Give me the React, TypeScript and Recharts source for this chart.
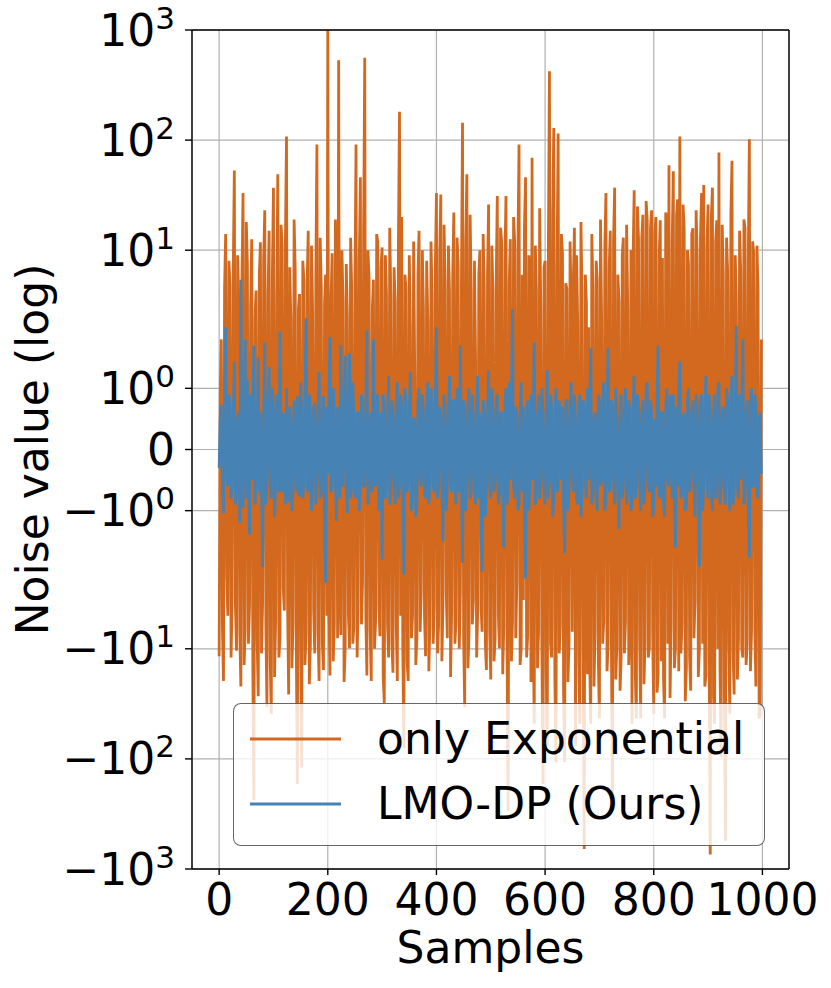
import { LineChart, Line, XAxis, YAxis, CartesianGrid, ReferenceLine, Legend } from 'recharts';

// noise, one value every 2 samples (0..998)
const exponentialNoise = [
  -11.7, 0.9, 1.8, -6, -19.6, 4.5, 14, -2.2, -5, 8, 4.8, -12, -3.2, 6.5, 53, -4, -10.4, 9, 3.5, -7,
  -22, 5.5, 33, -14, -6.5, 18, 7.5, -9, -4, 3.2, 12.6, -15, -237, 2.5, 4.3, -8.5, -27, 6, 11.8, -11,
  -3.8, 8.5, 23, -6, -34, 4, 15, -13, -39, 6, 37, -18, -5.6, 3.6, 49, -12, -8, 17, 10.6, -2.8,
  -4.5, 12, 108, -4, -26, 7, 2.4, -15, -6, 19, 6.7, -9, -169, 3, 4, -11, -120, 8, 5.4, -14,
  -7, 5, 15, -21, -8.8, 11, 3, -4.5, -11, 6, 91, -7, -19.6, 13, 4.5, -9, -15.6, 3.3, 6, -5,
  991, -4, -17.5, 3.5, 9.4, -13, -6, 19, 5.5, -8, 531, -3, -7.5, 10, 3.5, -20, -9.9, 7.5, 2.5, -5,
  -9.9, 13, 4.5, -9, -6.3, 5, 91, -12, -3.5, 8, 46, -6, -2.5, 15, 560, -5, -17.5, 10, 5.5, -7,
  -19.6, 3, 5.4, -10, -5.6, 14, 11.9, -4, -7.7, 7, 10.6, -18, -31, 9, 4, -6, -12, 16, 3.8, -9,
  -16.5, 7, 3.4, -6, -19.6, 12, 181, -5, 20, -9, -80, 6, 4.4, -13, -19.6, 9, 2, -8, -5, 12,
  1.3, -14, -8, 6, 15, -7, -3, 10, 3, -5, -11.7, 8, 2.4, -16, -5.6, 12, 3.8, -9, -4, 7,
  33, -11, -6, 9, 32, -13, -4, 17, 5, -3, -8, 11, 4.3, -18, -4.5, 6, 22, -9, -5.6, 13,
  7, -10, -3, 5, 144, -8, -34, 12, 49, -15, -7, 21, 4.3, -6, -3.6, 8, 1.5, -12, -4.5, 6,
  10, -4, -7, 14, 4.3, -9, -15.6, 6, 26, -7, -19, 11, 4.3, -13, -8, 5, 31, -5, -9.9, 16,
  12, -17, -6, 8, 31, -10, -296, 5, 12.6, -13, -5.6, 20, 11.9, -8, -2.5, 10, 91, -14, -10, 6,
  -3.6, 16, 46, -12, -7.5, 9, 6, -20, 69, -6, -48, 11, 4.4, -15, -7, 24, 3, -9, -169, 7,
  8, -15, -76, 10, 423, -9, -12, 22, 129, -18, -107, 7, 115, -11, -6, 14, 9.4, -25, -107, 5,
  4.5, -20, -9, 12, 3, -7, 5.4, 16, -76, 9, 2.2, -14, -48, 18, 3.8, -10, -658, 6, 3.4, -17,
  2, -12, -48, 14, 4.5, -22, -7, 8, 5.4, -13, -43, 19, 2.5, -9, -5.6, 11, 33, -16, -8.8, 7,
  15, -8, -265, 12, 37, -19, -9.9, 6, 3.4, -24, -12, 9, 13, -11, -5.6, 17, 3.4, -14, -6, 10,
  -48, 9, 35, -17, -43, 25, 12.6, -8, -43, 13, 21, -21, -8.8, 28, 18.7, -12, -9.9, 16, 23, -7,
  -39, 14, 20, -25, -17.5, 9, 18.7, -13, 8.5, -19, -43, 22, 18.7, -9, 59, -28, -6, 12, 52, -15,
  -9.9, 21, 29, -16, 108, -11, -6, 26, 15.8, -30, -15, 10, 7.5, -12, -24, 14, 15.8, -8, -3.6, 23,
  8.5, -18, -10, 13, 33, -9, 39, -22, -17.5, 11, 26, -14, -738, 20, 37, -27, -48, 12, 18.7, -10,
  77, -15, -96, 17, 6, -24, -555, 13, 6.5, -9, -39, 21, 65, -11, -26, 9, 3.4, -19, -8, 15,
  6.7, -10, -12, 19, 15.8, -14, -9, 8, 102, -16, -7, 12, 9.5, -6, -22, 11, 4.3, -43, -39, 1.8,
];

const lmoDpNoise = [
  -0.3, 0.5, 0.73, -0.6, -1.04, 0.8, 2.0, -0.4, -0.6, 0.9, 0.7, -0.8, -0.5, 0.6, 1.44, -0.9, -0.7, 0.5, 0.6, -1.2,
  5.4, -0.7, -0.95, 0.6, 1.8, -0.8, 1.13, -0.5, -1.39, 0.9, -0.5, 0.7, 1.7, -0.9, -0.6, 0.5, 1.5, -0.7, 0.6, -0.5,
  -1.92, 0.6, 1.75, -0.9, -0.5, 0.8, 1.35, -0.6, -0.8, 1.0, 0.7, -1.1, -0.6, 0.9, 0.5, -0.7, 1.93, -0.5, -0.7, 0.6,
  0.4, -0.9, 1.0, -0.5, -0.86, 0.7, 0.5, -1.0, -0.6, 0.8, 0.3, -0.7, 0.87, -0.5, -0.77, 1.1, 0.6, -0.8, -0.5, 0.9,
  2.4, -0.6, -0.7, 0.9, 0.5, -1.0, -0.6, 0.7, 0.73, -0.9, -0.5, 0.6, 1.27, -0.8, -0.7, 0.5, 0.87, -1.1, -2.5, 0.7,
  -0.4, 0.8, 1.84, -0.7, -0.6, 1.0, 0.6, -0.5, -1.17, 0.7, 0.4, -0.8, 1.7, -0.5, -0.6, 0.9, 1.53, -0.6, -1.04, 0.8,
  1.57, -0.8, -0.6, 1.1, 0.5, -0.7, -0.8, 0.6, 0.6, -1.0, -0.5, 0.9, 0.8, -0.6, -0.6, 0.7, 1.95, -0.9, -0.7, 0.5,
  0.6, -0.7, 1.8, -0.5, -0.6, 0.8, 0.9, -1.0, -0.5, 0.6, -1.8, 0.9, 0.7, -0.8, -0.6, 0.5, 1.2, -0.9, -0.7, 0.8,
  0.6, -0.5, -0.9, 0.7, 1.1, -0.8, -0.6, 0.9, 0.7, -0.6, -2.1, 1.0, 0.8, -0.7, -0.5, 0.6, 1.27, -1.0, -0.7, 0.5,
  0.5, -1.1, -0.9, 0.8, 1.0, -0.5, -0.6, 0.9, 0.6, -0.7, -0.8, 0.6, 1.1, -0.9, -0.5, 1.0, 0.7, -0.6, -0.7, 0.9,
  2.0, -0.8, -0.6, 0.7, 0.6, -0.5, -1.5, 0.9, 0.7, -1.0, -0.6, 0.6, 1.2, -0.5, -0.7, 0.8, 0.8, -0.6, -0.9, 1.0,
  0.6, -0.7, 1.7, -0.5, -1.85, 0.8, 0.6, -1.0, -0.5, 0.7, 1.0, -0.8, -0.7, 0.9, 0.5, -0.6, -0.9, 0.6, 1.2, -0.8,
  0.6, -0.9, -2.0, 0.8, 0.7, -1.1, -0.6, 0.5, 1.3, -0.6, -0.8, 1.0, 0.6, -0.7, -0.5, 0.8, 0.9, -0.9, -0.7, 0.6,
  0.6, -0.5, -1.6, 0.7, 1.0, -0.9, -0.6, 1.1, -0.5, 0.8, 2.9, -0.6, -0.8, 0.7, 0.6, -1.0, -0.9, 0.5, 1.1, -0.7,
  0.7, -0.8, -2.3, 0.6, 0.8, -1.0, -0.6, 0.9, -0.5, 0.6, 1.75, -0.9, -0.7, 0.5, 0.9, -0.8, -0.6, 1.0, 0.6, -0.5,
  -0.9, 0.6, 1.3, -0.8, -0.5, 0.9, 0.7, -1.1, -0.8, 0.5, 1.0, -0.7, -0.6, 0.8, 0.6, -0.5, 0.7, -0.9, -1.7, 0.8,
  0.8, -1.0, -0.6, 0.7, 1.1, -0.5, -0.7, 0.9, 0.5, -0.8, -0.9, 0.6, 0.9, -1.1, -0.6, 0.8, 0.7, -0.5, -0.8, 1.0,
  -0.5, 0.7, 1.66, -0.9, -0.7, 0.5, 0.6, -0.8, -1.0, 0.9, 0.8, -0.6, -0.5, 0.7, 1.1, -1.0, -0.8, 0.6, 1.66, -0.7,
  -0.6, 0.8, 0.7, -0.5, -0.9, 1.0, 0.6, -0.7, -1.3, 0.5, 0.9, -0.8, -0.6, 0.6, 1.0, -0.9, -0.7, 0.8, 0.6, -1.0,
  -0.9, 0.7, 1.2, -0.8, -0.6, 0.9, 0.7, -0.5, -1.0, 0.6, 0.8, -0.9, -0.5, 1.0, 1.1, -0.6, -0.7, 0.8, 0.6, -1.1,
  -0.9, 0.5, -0.6, 0.8, 1.7, -0.7, -0.8, 0.6, 0.6, -0.9, -1.1, 0.7, 1.0, -0.5, -0.6, 0.9, 0.7, -0.8, 0.9, -0.6,
  -1.6, 0.7, -0.6, 0.9, 1.44, -0.8, -0.7, 0.5, 0.6, -1.0, -0.9, 0.8, 1.0, -0.7, -0.6, 0.6, 0.8, -0.5, -1.1, 0.9,
  0.7, -0.6, -1.92, 0.8, 0.9, -1.0, -0.6, 0.7, 1.2, -0.5, -0.8, 0.9, 0.6, -0.7, -1.0, 0.5, 0.9, -0.8, -0.7, 1.0,
  1.1, -0.9, -0.6, 0.6, 0.7, -0.7, -0.9, 1.0, 0.8, -0.5, -1.0, 0.8, 1.2, -0.9, -0.6, 0.7, 2.05, -0.6, -0.8, 0.9,
  -0.5, 0.7, 1.8, -0.9, -0.7, 0.6, 0.8, -1.0, -1.77, 0.8, 1.0, -0.6, -0.6, 0.9, 0.7, -0.7, -0.8, 0.5, 0.6, -0.4,
];

const SAMPLE_STEP = 2;
const xTicks = [0, 200, 400, 600, 800, 1000];
const yTickValues = [-1000, -100, -10, -1, 0, 1, 10, 100, 1000];

const ORANGE = '#d2691e';
const BLUE = '#4682b4';
const FONT = "'DejaVu Sans', sans-serif";
const LINE_W = 2.8;

// matplotlib-style symlog: linthresh 2, linscale 1
const LINTHRESH = 2;
const LINSCALE = 1 / (1 - 1 / 10);
const symlog = (v: number) => {
  const a = Math.abs(v);
  if (a <= LINTHRESH) return (v / LINTHRESH) * LINSCALE;
  return Math.sign(v) * (LINSCALE + Math.log10(a / LINTHRESH));
};

const yTickPositions = yTickValues.map(symlog);
const Y_MAX = symlog(1000);
const X_MIN = -49.95;
const X_MAX = 1048.95;

const data = exponentialNoise.map((v, i) => ({
  x: i * SAMPLE_STEP,
  exp: symlog(v),
  ours: symlog(lmoDpNoise[i]),
}));

function SymlogTick({ x, y, payload }: any) {
  const idx = yTickPositions.findIndex((p) => Math.abs(p - payload.value) < 1e-6);
  const raw = yTickValues[idx];
  const common = { x, y: y + 15.5, textAnchor: 'end' as const, fontSize: 44, fill: '#000', fontFamily: FONT };
  if (raw === 0) return <text {...common}>0</text>;
  const exp = Math.round(Math.log10(Math.abs(raw)));
  return (
    <text {...common}>
      {raw < 0 ? '\u2212' : ''}10
      <tspan dy={-17} fontSize={31}>{exp}</tspan>
    </text>
  );
}

function LegendBox() {
  return (
    <div
      style={{
        width: 532,
        height: 143,
        boxSizing: 'border-box',
        background: 'rgba(255,255,255,0.8)',
        border: '1.5px solid rgba(0,0,0,0.6)',
        borderRadius: 8,
      }}
    >
      <svg width={530} height={140} style={{ display: 'block' }}>
        <line x1={16} x2={107} y1={35} y2={35} stroke={ORANGE} strokeWidth={LINE_W} />
        <text x={143} y={50} fontSize={44} fontFamily={FONT} fill="#000">only Exponential</text>
        <line x1={16} x2={107} y1={100} y2={100} stroke={BLUE} strokeWidth={LINE_W} />
        <text x={143} y={115} fontSize={44} fontFamily={FONT} fill="#000">LMO-DP (Ours)</text>
      </svg>
    </div>
  );
}

export default function App() {
  return (
    <div style={{ position: 'absolute', left: 0, top: 0, width: 831, height: 988, background: '#fff' }}>
      <LineChart
        width={831}
        height={988}
        data={data}
        margin={{ top: 30, right: 42, left: 0, bottom: 0 }}
        style={{ fontFamily: FONT }}
      >
        <CartesianGrid stroke="#b0b0b0" strokeWidth={1.2} />
        <XAxis
          dataKey="x"
          type="number"
          domain={[X_MIN, X_MAX]}
          ticks={xTicks}
          allowDataOverflow
          height={119}
          tickSize={6}
          tickMargin={9}
          axisLine={{ stroke: '#000', strokeWidth: 1.4 }}
          tickLine={{ stroke: '#000', strokeWidth: 1.4 }}
          tick={{ fontSize: 44, fill: '#000', fontFamily: FONT }}
          label={{
            content: ({ viewBox }: any) => (
              <text
                x={viewBox.x + viewBox.width / 2}
                y={viewBox.y + 94}
                textAnchor="middle"
                fontSize={44}
                fontFamily={FONT}
                fill="#000"
              >
                Samples
              </text>
            ),
          }}
        />
        <YAxis
          type="number"
          domain={[-Y_MAX, Y_MAX]}
          ticks={yTickPositions}
          allowDataOverflow
          width={192}
          tickSize={7}
          tickMargin={10}
          interval={0}
          axisLine={{ stroke: '#000', strokeWidth: 1.4 }}
          tickLine={{ stroke: '#000', strokeWidth: 1.4 }}
          tick={<SymlogTick />}
          label={{
            content: ({ viewBox }: any) => {
              const cx = 48;
              const cy = viewBox.y + viewBox.height / 2;
              return (
                <text
                  x={cx}
                  y={cy}
                  transform={`rotate(-90, ${cx}, ${cy})`}
                  textAnchor="middle"
                  fontSize={44}
                  fontFamily={FONT}
                  fill="#000"
                >
                  Noise value (log)
                </text>
              );
            },
          }}
        />
        <Line
          type="linear"
          dataKey="exp"
          name="only Exponential"
          stroke={ORANGE}
          strokeWidth={LINE_W}
          dot={false}
          isAnimationActive={false}
        />
        <Line
          type="linear"
          dataKey="ours"
          name="LMO-DP (Ours)"
          stroke={BLUE}
          strokeWidth={LINE_W}
          dot={false}
          isAnimationActive={false}
        />
        <ReferenceLine y={Y_MAX} stroke="#000" strokeWidth={1.4} />
        <ReferenceLine x={X_MAX} stroke="#000" strokeWidth={1.4} />
        <Legend
          layout="vertical"
          verticalAlign="middle"
          align="center"
          wrapperStyle={{ left: 233, top: 703, width: 532, height: 143 }}
          content={() => <LegendBox />}
        />
      </LineChart>
    </div>
  );
}
